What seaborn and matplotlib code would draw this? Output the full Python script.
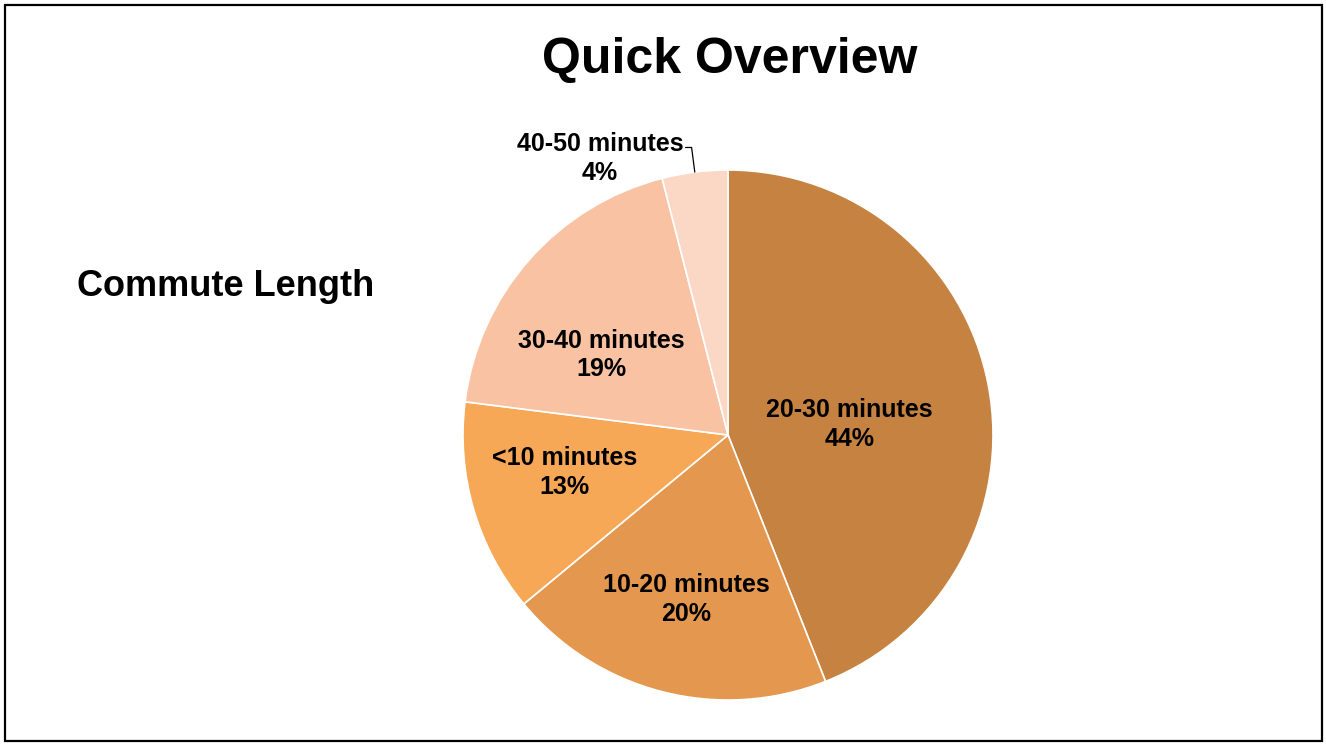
import numpy as np
import seaborn as sns
import matplotlib.pyplot as plt
from matplotlib.patches import Rectangle

# data
categories = ['20-30 minutes', '10-20 minutes', '<10 minutes', '30-40 minutes', '40-50 minutes']
shares = [44, 20, 13, 19, 4]
colors = ['#C68240', '#E4974E', '#F7A857', '#F9C3A3', '#FBD8C6']

# label placement (radius as fraction of pie radius, angle nudge in degrees)
label_r = [0.46, 0.63, 0.63, 0.57, 1.16]
label_dang = [-4.6, 0.0, -4.1, 8.2, 17.4]

sns.set_theme(style='white')
plt.rcParams['font.family'] = ['Liberation Sans', 'DejaVu Sans']
plt.rcParams['text.color'] = 'black'

W, H = 1326, 744
fig = plt.figure(figsize=(W / 100, H / 100), dpi=100)
fig.patch.set_facecolor('white')

# outer frame
fig.add_artist(Rectangle((5 / W, 3 / H), 1317 / W, 736 / H, transform=fig.transFigure,
                         fill=False, edgecolor='black', linewidth=1.6))

cx, cy, R = 728, 435, 265
ax = fig.add_axes([(cx - R) / W, (H - cy - R) / H, 2 * R / W, 2 * R / H])
wedges, _ = ax.pie(shares, colors=colors, startangle=90, counterclock=False,
                   radius=1.0, wedgeprops=dict(edgecolor='white', linewidth=1.2))
ax.set_xlim(-1, 1)
ax.set_ylim(-1, 1)
ax.set_aspect('equal')
ax.axis('off')

for w, cat, pct, r, da in zip(wedges, categories, shares, label_r, label_dang):
    mid = (w.theta1 + w.theta2) / 2
    ang = np.deg2rad(mid + da)
    ax.text(r * np.cos(ang), r * np.sin(ang) - 0.01, f'{cat}\n{pct}%', ha='center', va='center',
            fontsize=18, fontweight='bold', color='black', linespacing=1.25)

# leader line for the small slice
w = wedges[-1]
m = np.deg2rad((w.theta1 + w.theta2) / 2)
x0, y0 = np.cos(m), np.sin(m)
ax.plot([x0, x0 - 0.012, x0 - 0.035], [y0, 1.085, 1.085], color='black', lw=0.9, clip_on=False)

fig.text(730 / W, 1 - 60 / H, 'Quick Overview', ha='center', va='center',
         fontsize=36, fontweight='bold', color='black')
fig.text(77 / W, 1 - 287 / H, 'Commute Length', ha='left', va='center',
         fontsize=26, fontweight='bold', color='black')

fig.savefig('out.png', dpi=100)
